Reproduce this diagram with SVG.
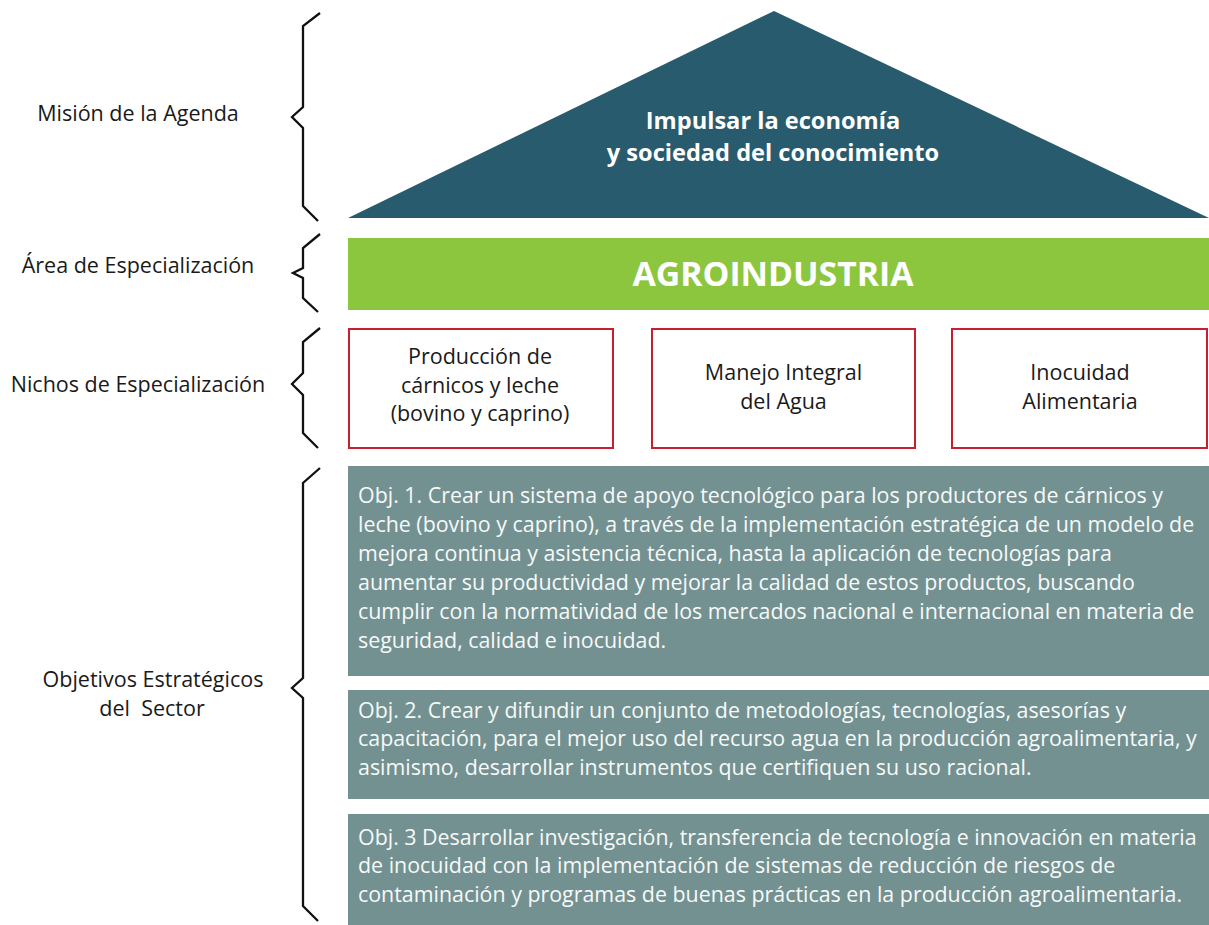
<svg xmlns="http://www.w3.org/2000/svg" width="1209" height="925" viewBox="0 0 1209 925">
<style>
.lbl{font-family:"Open Sans","Noto Sans","Liberation Sans",sans-serif;font-size:21.5px;fill:#1a1a1a;text-anchor:middle}
.niche{font-family:"Open Sans","Noto Sans","Liberation Sans",sans-serif;font-size:21.5px;fill:#1a1a1a;text-anchor:middle}
.obj{font-family:"Open Sans","Noto Sans","Liberation Sans",sans-serif;font-size:21.4px;fill:#f7f9f9}
.title{font-family:"Open Sans","Noto Sans","Liberation Sans",sans-serif;font-size:23.6px;font-weight:bold;fill:#ffffff;text-anchor:middle}
.brace{fill:none;stroke:#111;stroke-width:2.3;stroke-linejoin:miter}
.nbox{fill:#ffffff;stroke:#c4202f;stroke-width:2}
.obox{fill:#739191}
</style>
<rect width="1209" height="925" fill="#ffffff"/>
<g id="braces">
<polyline class="brace" points="320,13 303,26 303,107 292,117 303,128 303,206 318,221"/>
<polyline class="brace" points="320,234 303,248 303,268 293,273 303,278 303,298 318,312"/>
<polyline class="brace" points="320,328 303,342 303,373 292,384 303,395 303,433 318,448"/>
<polyline class="brace" points="320,468 303,483 303,678 292,688 303,698 303,906 318,921"/>
</g>
<g id="label-mision"><text class="lbl" x="138" y="121">Misión de la Agenda</text></g>
<g id="label-area"><text class="lbl" x="138" y="273">Área de Especialización</text></g>
<g id="label-nichos"><text class="lbl" x="138" y="392">Nichos de Especialización</text></g>
<g id="label-objetivos"><text class="lbl" x="153" y="687">Objetivos Estratégicos</text><text class="lbl" x="152" y="716" style="white-space:pre">del  Sector</text></g>
<g id="mision">
<polygon points="348,218 774,11 1209,218" fill="#285b6e"/>
<text class="title" x="773" y="129">Impulsar la economía</text>
<text class="title" x="773" y="161">y sociedad del conocimiento</text>
</g>
<g id="area">
<rect x="348" y="238" width="861" height="72" fill="#8cc63f"/>
<text class="title" x="773" y="286" style="font-size:33.8px">AGROINDUSTRIA</text>
</g>
<g id="nicho1">
<rect class="nbox" x="349" y="329" width="264" height="119"/>
<text class="niche" x="480" y="364">Producción de</text>
<text class="niche" x="480" y="393">cárnicos y leche</text>
<text class="niche" x="480" y="421">(bovino y caprino)</text>
</g>
<g id="nicho2">
<rect class="nbox" x="652" y="329" width="263" height="119"/>
<text class="niche" x="783.5" y="380">Manejo Integral</text>
<text class="niche" x="783.5" y="409">del Agua</text>
</g>
<g id="nicho3">
<rect class="nbox" x="952" y="329" width="255" height="119"/>
<text class="niche" x="1080" y="380">Inocuidad</text>
<text class="niche" x="1080" y="409">Alimentaria</text>
</g>
<g id="obj1">
<rect class="obox" x="348" y="466" width="861" height="210"/>
<text class="obj" x="358" y="503">Obj. 1. Crear un sistema de apoyo tecnológico para los productores de cárnicos y</text>
<text class="obj" x="358" y="532">leche (bovino y caprino), a través de la implementación estratégica de un modelo de</text>
<text class="obj" x="358" y="561">mejora continua y asistencia técnica, hasta la aplicación de tecnologías para</text>
<text class="obj" x="358" y="590">aumentar su productividad y mejorar la calidad de estos productos, buscando</text>
<text class="obj" x="358" y="619">cumplir con la normatividad de los mercados nacional e internacional en materia de</text>
<text class="obj" x="358" y="648">seguridad, calidad e inocuidad.</text>
</g>
<g id="obj2">
<rect class="obox" x="348" y="690" width="861" height="109"/>
<text class="obj" x="358" y="718">Obj. 2. Crear y difundir un conjunto de metodologías, tecnologías, asesorías y</text>
<text class="obj" x="358" y="746">capacitación, para el mejor uso del recurso agua en la producción agroalimentaria, y</text>
<text class="obj" x="358" y="775">asimismo, desarrollar instrumentos que certifiquen su uso racional.</text>
</g>
<g id="obj3">
<rect class="obox" x="348" y="814" width="861" height="111"/>
<text class="obj" x="358" y="845">Obj. 3 Desarrollar investigación, transferencia de tecnología e innovación en materia</text>
<text class="obj" x="358" y="873">de inocuidad con la implementación de sistemas de reducción de riesgos de</text>
<text class="obj" x="358" y="902">contaminación y programas de buenas prácticas en la producción agroalimentaria.</text>
</g>
</svg>
